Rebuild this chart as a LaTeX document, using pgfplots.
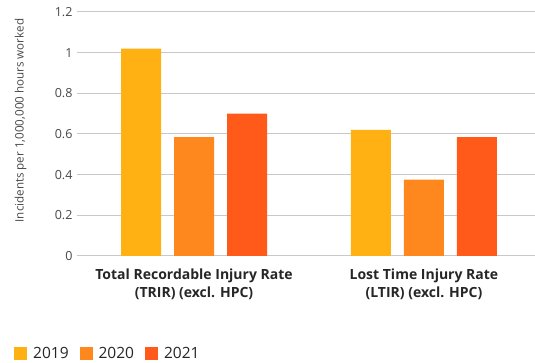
\documentclass[border=0pt]{standalone}
\usepackage{pgfplots}
\pgfplotsset{compat=1.18}
\usepackage{fontspec}
\setmainfont{Open Sans}
\definecolor{c19}{HTML}{FFB114}
\definecolor{c20}{HTML}{FF881E}
\definecolor{c21}{HTML}{FF5A19}
\definecolor{gridc}{HTML}{C8C8C8}
\definecolor{txt}{HTML}{262626}
\begin{document}
\begin{tikzpicture}
\begin{axis}[
  at={(0,0)}, anchor=south west,
  scale only axis,
  width=458pt, height=244pt,
  xmin=-0.509, xmax=1.483,
  ymin=0, ymax=1.2,
  ytick={0,0.2,0.4,0.6,0.8,1,1.2},
  yticklabels={0,0.2,0.4,0.6,0.8,1,1.2},
  xtick={0,1},
  xticklabels={{Total Recordable Injury Rate\\(TRIR) (excl. HPC)},{Lost Time Injury Rate\\(LTIR) (excl. HPC)}},
  xticklabel style={align=center, font=\fontsize{14}{18}\selectfont\bfseries, text=txt, yshift=-9pt},
  yticklabel style={font=\fontsize{12.5}{14}\selectfont, text=txt!85, xshift=-1pt},
  /pgf/number format/assume math mode=true,
  axis x line*=bottom,
  axis y line*=left,
  y axis line style={draw=none},
  x axis line style={gridc, line width=1pt, -},
  major tick length=0pt,
  ymajorgrids,
  grid style={gridc, line width=1pt},
  ylabel={Incidents per 1,000,000 hours worked},
  ylabel style={font=\fontsize{11.6}{13}\selectfont, text=txt!85, at={(axis description cs:-0.123,0.555)}, anchor=center, rotate=0},
  ybar, bar width=40pt,
  enlarge x limits=false,
  legend style={at={(axis description cs:-0.1376,-0.4)}, anchor=west, draw=none, legend columns=3,
    font=\fontsize{15.5}{17}\selectfont, text=txt, inner sep=0pt,
    nodes={inner sep=0pt},
    /tikz/every odd column/.append style={column sep=6pt},
    /tikz/every even column/.append style={column sep=11pt}},
  legend image code/.code={\fill[#1] (0pt,-6.5pt) rectangle (13pt,6.5pt);},
]
\addplot[fill=c19, draw=none, bar shift=-53pt] coordinates {(0,1.02) (1,0.62)};
\addplot[fill=c20, draw=none, bar shift=0pt] coordinates {(0,0.585) (1,0.375)};
\addplot[fill=c21, draw=none, bar shift=53pt] coordinates {(0,0.70) (1,0.585)};
\legend{2019,2020,2021}
\end{axis}
\pgfresetboundingbox
\path[use as bounding box] (-77pt,-107pt) rectangle (458pt,256pt);
\end{tikzpicture}
\end{document}
